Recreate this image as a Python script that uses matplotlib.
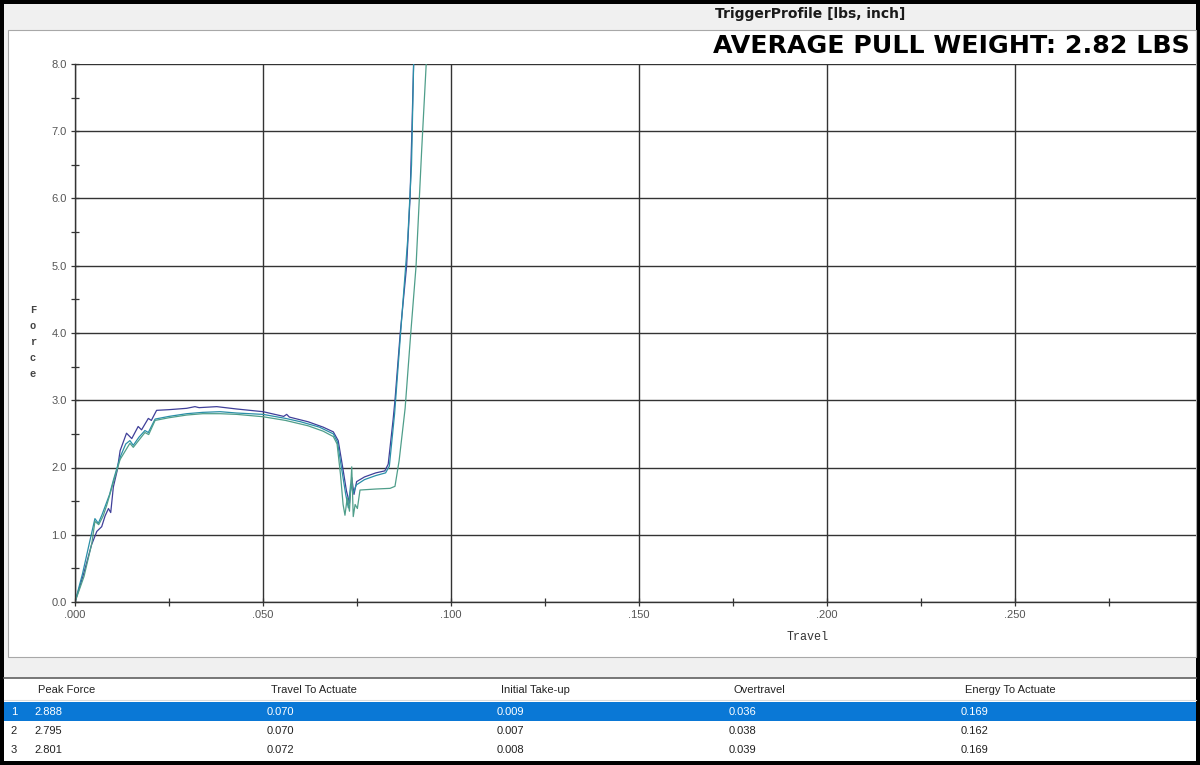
import matplotlib
matplotlib.use('Agg')
import matplotlib.pyplot as plt
from matplotlib.patches import Rectangle
from matplotlib.ticker import MultipleLocator, FuncFormatter

# trigger pull curves: travel [inch], force [lbs]
x1 = [0, 0.0022, 0.0044, 0.0058, 0.0071, 0.0080, 0.0089, 0.0095, 0.0102, 0.0112, 0.0120,
      0.0137, 0.0151, 0.0168, 0.0177, 0.0195, 0.0203, 0.0217, 0.0250, 0.0297, 0.0319, 0.0330,
      0.0377, 0.0430, 0.0500, 0.0555, 0.0563, 0.0570, 0.0620, 0.0660, 0.0687, 0.0700, 0.0712,
      0.0722, 0.0730, 0.0736, 0.0742, 0.0749, 0.0770, 0.0800, 0.0824, 0.0833, 0.0846, 0.0851,
      0.0865, 0.0882, 0.0891, 0.0896, 0.0901]
y1 = [0, 0.40, 0.85, 1.05, 1.12, 1.28, 1.39, 1.33, 1.71, 1.95, 2.25,
      2.51, 2.43, 2.61, 2.56, 2.73, 2.70, 2.85, 2.86, 2.88, 2.905, 2.89,
      2.905, 2.87, 2.83, 2.76, 2.79, 2.75, 2.68, 2.60, 2.53, 2.40, 2.00,
      1.65, 1.47, 1.85, 1.60, 1.79, 1.86, 1.92, 1.95, 2.05, 2.71, 3.00,
      4.00, 5.00, 6.00, 7.00, 8.10]

x2 = [0, 0.0020, 0.0040, 0.0053, 0.0062, 0.0072, 0.0080, 0.0092, 0.0102, 0.0112, 0.0122,
      0.0135, 0.0146, 0.0155, 0.0170, 0.0186, 0.0195, 0.0213, 0.0250, 0.0297, 0.0340, 0.0386,
      0.0430, 0.0500, 0.0560, 0.0600, 0.0650, 0.0687, 0.0698, 0.0710, 0.0720, 0.0727, 0.0733,
      0.0740, 0.0748, 0.0770, 0.0800, 0.0826, 0.0836, 0.0850, 0.0870, 0.0885, 0.0895, 0.0901]
y2 = [0, 0.42, 0.92, 1.24, 1.17, 1.30, 1.42, 1.60, 1.81, 2.00, 2.18,
      2.35, 2.40, 2.33, 2.45, 2.55, 2.52, 2.72, 2.76, 2.80, 2.82, 2.83,
      2.81, 2.79, 2.73, 2.68, 2.60, 2.50, 2.38, 1.95, 1.60, 1.40, 1.75,
      1.62, 1.74, 1.82, 1.88, 1.92, 2.02, 2.80, 4.30, 5.40, 6.50, 8.10]

x3 = [0, 0.0024, 0.0045, 0.0053, 0.0063, 0.0075, 0.0085, 0.0102, 0.0120, 0.0146, 0.0155,
      0.0186, 0.0196, 0.0213, 0.0250, 0.0297, 0.0340, 0.0386, 0.0430, 0.0500, 0.0560, 0.0620,
      0.0660, 0.0687, 0.0697, 0.0706, 0.0713, 0.0718, 0.0724, 0.0730, 0.0736, 0.0740, 0.0745,
      0.0751, 0.0758, 0.0800, 0.0838, 0.0851, 0.0862, 0.0878, 0.0893, 0.0907, 0.0922, 0.0935]
y3 = [0, 0.38, 0.88, 1.20, 1.15, 1.28, 1.45, 1.78, 2.12, 2.36, 2.30,
      2.52, 2.49, 2.70, 2.74, 2.78, 2.80, 2.80, 2.79, 2.755, 2.70, 2.62,
      2.54, 2.46, 2.35, 1.90, 1.45, 1.29, 1.55, 1.35, 2.01, 1.27, 1.45,
      1.39, 1.665, 1.68, 1.69, 1.72, 2.10, 2.88, 4.00, 4.99, 6.72, 8.10]

colors = ['#3f3f99', '#2a8fa8', '#4f9e8a']

# results table
table_cols = ['Peak Force', 'Travel To Actuate', 'Initial Take-up', 'Overtravel', 'Energy To Actuate']
row_ids = ['1', '2', '3']
peak_force = ['2.888', '2.795', '2.801']
travel_to_actuate = ['0.070', '0.070', '0.072']
initial_takeup = ['0.009', '0.007', '0.008']
overtravel = ['0.036', '0.038', '0.039']
energy_to_actuate = ['0.169', '0.162', '0.169']

W, H = 1200, 765


def fx(px):
    return px / W


def fy(py):
    return 1 - py / H


def rect(x0, y0, x1, y1, **kw):
    r = Rectangle((fx(x0), fy(y1)), (x1 - x0) / W, (y1 - y0) / H,
                  transform=fig.transFigure, **kw)
    fig.patches.append(r)


def hline(y, x0, x1, **kw):
    fig.add_artist(plt.Line2D([fx(x0), fx(x1)], [fy(y), fy(y)], transform=fig.transFigure, **kw))


plt.rcParams['font.family'] = ['Liberation Sans', 'DejaVu Sans']

fig = plt.figure(figsize=(12, 7.65), dpi=100, facecolor='black')

rect(4, 4, 1196, 761, facecolor='#f0f0f0', edgecolor='none', zorder=-10)
rect(8, 30, 1196, 657, facecolor='white', edgecolor='#a8a8a8', lw=0.8, zorder=-9)
rect(4, 678, 1196, 761, facecolor='white', edgecolor='none', zorder=-9)
hline(678, 4, 1196, color='#606060', lw=1.2, zorder=-8)
hline(700, 4, 1196, color='#dcdcdc', lw=0.8, zorder=-8)
rect(4, 702, 1196, 721, facecolor='#0a78d6', edgecolor='none', zorder=-8)

ax = fig.add_axes([fx(75), fy(602), fx(1196) - fx(75), (602 - 64) / H])
ax.set_facecolor('white')

for xs, ys, c in zip([x1, x2, x3], [y1, y2, y3], colors):
    ax.plot(xs, ys, color=c, lw=0.9)

ax.set_xlim(0, (1196 - 75) / 188 * 0.05)
ax.set_ylim(0, 8)
ax.xaxis.set_major_locator(MultipleLocator(0.05))
ax.xaxis.set_minor_locator(MultipleLocator(0.025))
ax.yaxis.set_major_locator(MultipleLocator(1.0))
ax.yaxis.set_minor_locator(MultipleLocator(0.5))
ax.xaxis.set_major_formatter(FuncFormatter(lambda v, p: f"{v:.3f}"[1:]))
ax.yaxis.set_major_formatter(FuncFormatter(lambda v, p: f"{v:.1f}"))
ax.grid(True, which='major', color='#333333', lw=1.0)
ax.tick_params(which='both', direction='inout', color='#333333', labelsize=8,
               labelcolor='#555555', width=0.9)
ax.tick_params(which='major', length=6, pad=3)
ax.tick_params(which='minor', length=6)
for s in ['top', 'right']:
    ax.spines[s].set_visible(False)
for s in ['left', 'bottom']:
    ax.spines[s].set_color('#333333')
    ax.spines[s].set_linewidth(1.0)

fig.text(fx(33), fy(342), 'F\no\nr\nc\ne', family='Liberation Mono', fontsize=7.5,
         fontweight='bold', linespacing=1.75, ha='center', va='center', color='#444444')
fig.text(fx(808), fy(637), 'Travel', family='Liberation Mono', fontsize=8.5,
         ha='center', va='center', color='#333333')

fig.text(fx(810), fy(14), 'TriggerProfile [lbs, inch]', family='DejaVu Sans', fontsize=10,
         fontweight='bold', ha='center', va='center', color='#1a1a1a')
fig.text(fx(1190), fy(46), 'AVERAGE PULL WEIGHT: 2.82 LBS', family='DejaVu Sans',
         fontsize=18.2, fontweight='bold', ha='right', va='center', color='black')

col_x = [38, 271, 501, 733, 965]
for cx, name in zip(col_x, table_cols):
    fig.text(fx(cx), fy(690), name, fontsize=8, ha='left', va='center', color='#222222')

rows = list(zip(peak_force, travel_to_actuate, initial_takeup, overtravel, energy_to_actuate))
row_y = [712, 731, 750]
for i, (rid, vals, ry) in enumerate(zip(row_ids, rows, row_y)):
    c = 'white' if i == 0 else '#222222'
    fig.text(fx(14), fy(ry), rid, fontsize=8, ha='center', va='center', color=c)
    for cx, v in zip(col_x, vals):
        fig.text(fx(cx - 4), fy(ry), v, fontsize=8, ha='left', va='center', color=c)

fig.savefig('out.png', dpi=100, facecolor=fig.get_facecolor())
